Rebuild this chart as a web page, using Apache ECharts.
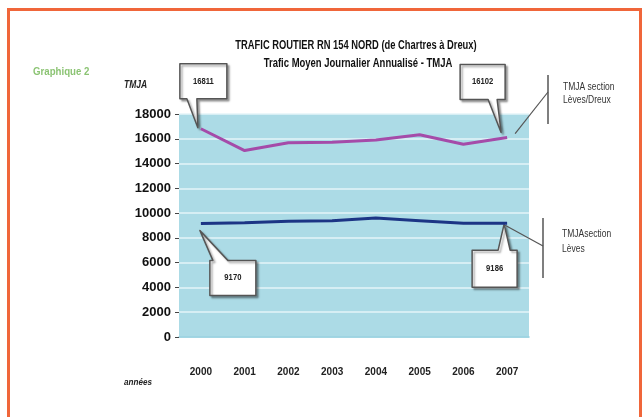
<!doctype html>
<html lang="fr">
<head>
<meta charset="utf-8" />
<title>Trafic routier RN 154</title>
<script src="https://cdn.jsdelivr.net/npm/echarts@6/dist/echarts.min.js"></script>
<style>
	html, body { margin: 0; padding: 0; background: #fff; }
	#main { width: 643px; height: 417px; }
</style>
</head>
<body>
<div id="main"></div>
<script>
	var years = ['2000', '2001', '2002', '2003', '2004', '2005', '2006', '2007'];
	var levesDreux = [16811, 15050, 15680, 15720, 15900, 16330, 15560, 16102];
	var leves = [9170, 9230, 9340, 9390, 9600, 9390, 9180, 9186];

	var FONT = '"Liberation Sans", Arial, sans-serif';

	// callouts: which series / point, and box placement relative to the point
	var callouts = [
		{ s: 0, i: 0, tip: [-3, -1], box: [-21, -65, 26, -30], base: [-14, -4] },
		{ s: 0, i: 7, tip: [-6, -5], box: [-47, -73, -2, -38], base: [-19, -10] },
		{ s: 1, i: 0, tip: [-1, 7], box: [9, 37, 55, 72], base: [12, 27] },
		{ s: 1, i: 7, tip: [-3, 1], box: [-35, 27, 10, 64], base: [-9, 3] }
	];

	var chart = echarts.init(document.getElementById('main'));

	chart.setOption({
		animation: false,
		grid: {
			left: 179, right: 114, top: 114, bottom: 80,
			show: true, backgroundColor: '#acdbe6', borderWidth: 0
		},
		xAxis: {
			type: 'category',
			data: years,
			boundaryGap: true,
			axisLine: { lineStyle: { color: '#8ccbdb', width: 1.5 } },
			axisTick: { length: 8, lineStyle: { color: '#8ccbdb' } },
			axisLabel: {
				margin: 30, fontFamily: FONT, fontSize: 10, fontWeight: 'bold', color: '#222'
			},
			splitLine: { show: false }
		},
		yAxis: {
			type: 'value',
			min: 0, max: 18000, interval: 2000,
			axisLine: { show: false },
			axisTick: { show: true, length: 4, lineStyle: { color: '#444' } },
			axisLabel: {
				margin: 8, fontFamily: FONT, fontSize: 13, fontWeight: 'bold', color: '#111',
				formatter: function (v) { return String(v); }
			},
			splitLine: { lineStyle: { color: '#e4f4f8', width: 1.5 } }
		},
		series: [{
			name: 'TMJA section Lèves/Dreux',
			type: 'line',
			data: levesDreux,
			symbol: 'none',
			lineStyle: { color: '#a54ba9', width: 3 }
		}, {
			name: 'TMJA section Lèves',
			type: 'line',
			data: leves,
			symbol: 'none',
			lineStyle: { color: '#1c3585', width: 3 }
		}]
	});

	var seriesData = [levesDreux, leves];
	var graphics = [];

	// outer orange frame
	graphics.push({
		type: 'rect', silent: true,
		shape: { x: 8.5, y: 9.5, width: 632, height: 430 },
		style: { fill: null, stroke: '#f0663a', lineWidth: 3 }
	});

	// titles, squeezed to look like the narrow bold face of the original
	graphics.push({
		type: 'text', x: 356, y: 46, scaleX: 0.78,
		style: {
			text: 'TRAFIC ROUTIER RN 154 NORD (de Chartres à Dreux)',
			font: 'bold 12px ' + FONT, fill: '#111', align: 'center', verticalAlign: 'middle'
		}
	});
	graphics.push({
		type: 'text', x: 358, y: 64, scaleX: 0.79,
		style: {
			text: 'Trafic Moyen Journalier Annualisé - TMJA',
			font: 'bold 12px ' + FONT, fill: '#111', align: 'center', verticalAlign: 'middle'
		}
	});

	graphics.push({
		type: 'text', x: 33, y: 72, scaleX: 0.88,
		style: { text: 'Graphique 2', font: 'bold 11px ' + FONT, fill: '#8cc474', verticalAlign: 'middle' }
	});
	graphics.push({
		type: 'text', x: 124, y: 85, scaleX: 0.85,
		style: { text: 'TMJA', font: 'italic bold 10px ' + FONT, fill: '#222', verticalAlign: 'middle' }
	});
	graphics.push({
		type: 'text', x: 124, y: 383, scaleX: 0.9,
		style: { text: 'années', font: 'italic bold 9px ' + FONT, fill: '#222', verticalAlign: 'middle' }
	});

	callouts.forEach(function (c) {
		var p = chart.convertToPixel({ seriesIndex: c.s }, [c.i, seriesData[c.s][c.i]]);
		var tx = p[0] + c.tip[0], ty = p[1] + c.tip[1];
		var x0 = p[0] + c.box[0], y0 = p[1] + c.box[1];
		var x1 = p[0] + c.box[2], y1 = p[1] + c.box[3];
		var b0 = p[0] + c.base[0], b1 = p[0] + c.base[1];
		var pts;
		if (ty < y0) {
			pts = [[x0, y0], [b0, y0], [tx, ty], [b1, y0], [x1, y0], [x1, y1], [x0, y1]];
		} else {
			pts = [[x0, y0], [x1, y0], [x1, y1], [b1, y1], [tx, ty], [b0, y1], [x0, y1]];
		}
		graphics.push({
			type: 'polygon', silent: true,
			shape: { points: pts },
			style: {
				fill: '#fff', stroke: '#555', lineWidth: 1.5, lineJoin: 'round',
				shadowBlur: 2, shadowOffsetX: 2, shadowOffsetY: 2, shadowColor: 'rgba(0,0,0,0.35)'
			}
		});
		graphics.push({
			type: 'text', silent: true,
			x: (x0 + x1) / 2, y: (y0 + y1) / 2, scaleX: 0.85,
			style: {
				text: String(seriesData[c.s][c.i]), font: 'bold 9px ' + FONT, fill: '#222',
				align: 'center', verticalAlign: 'middle'
			}
		});
	});

	// legend labels with leader lines
	var last = years.length - 1;
	var pA = chart.convertToPixel({ seriesIndex: 0 }, [last, levesDreux[last]]);
	var pB = chart.convertToPixel({ seriesIndex: 1 }, [last, leves[last]]);

	graphics.push({
		type: 'line', silent: true,
		shape: { x1: pA[0] + 8, y1: pA[1] - 4, x2: 548, y2: 92 },
		style: { stroke: '#555', lineWidth: 1.2 }
	});
	graphics.push({
		type: 'line', silent: true,
		shape: { x1: 548, y1: 75, x2: 548, y2: 124 },
		style: { stroke: '#555', lineWidth: 1.5 }
	});
	graphics.push({
		type: 'text', x: 563, y: 81, scaleX: 0.85,
		style: { text: 'TMJA section\nLèves/Dreux', font: '10px ' + FONT, fill: '#333', lineHeight: 13 }
	});

	graphics.push({
		type: 'line', silent: true,
		shape: { x1: pB[0] - 2, y1: pB[1] + 2, x2: 543, y2: 246 },
		style: { stroke: '#555', lineWidth: 1.2 }
	});
	graphics.push({
		type: 'line', silent: true,
		shape: { x1: 543, y1: 218, x2: 543, y2: 278 },
		style: { stroke: '#555', lineWidth: 1.5 }
	});
	graphics.push({
		type: 'text', x: 562, y: 227, scaleX: 0.85,
		style: { text: 'TMJAsection\nLèves', font: '10px ' + FONT, fill: '#333', lineHeight: 15 }
	});

	chart.setOption({ graphic: graphics });
</script>
</body>
</html>
